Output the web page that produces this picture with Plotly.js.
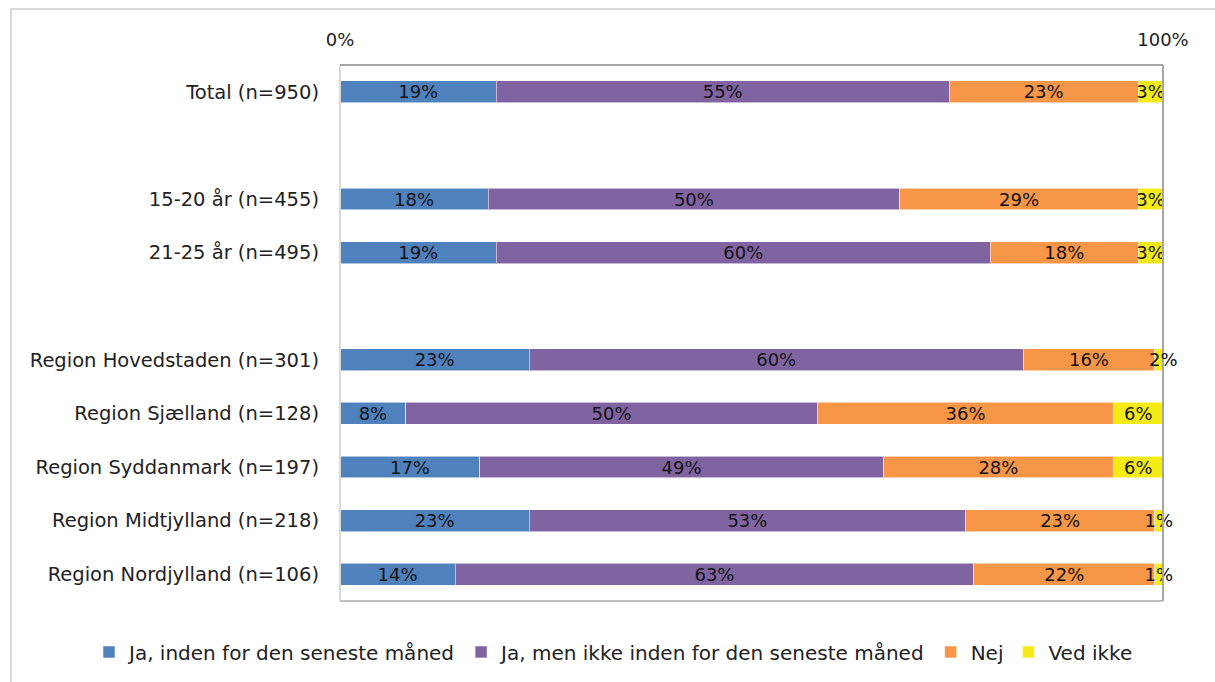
<!DOCTYPE html>
<html>
<head>
<meta charset="utf-8">
<script src="https://cdn.plot.ly/plotly-3.0.1.min.js"></script>
<style>
  html, body { margin: 0; padding: 0; background: #ffffff; }
  #wrap { position: relative; width: 1215px; height: 682px; overflow: hidden; }
  #chart { position: absolute; left: 0; top: 0; width: 1215px; height: 682px; }
  #frame { position: absolute; left: 10px; top: 8px; width: 1300px; height: 800px;
           border-left: 2px solid #d9d9d9; border-top: 2px solid #d9d9d9; pointer-events: none; }
</style>
</head>
<body>
<div id="wrap">
  <div id="chart"></div>
  <div id="frame"></div>
</div>
<script>
// Row labels, top to bottom; blank entries are spacer rows between groups
const categories = [
  'Total (n=950)',
  ' ',
  '15-20 år (n=455)',
  '21-25 år (n=495)',
  '  ',
  'Region Hovedstaden (n=301)',
  'Region Sjælland (n=128)',
  'Region Syddanmark (n=197)',
  'Region Midtjylland (n=218)',
  'Region Nordjylland (n=106)'
];

const seriesNames = [
  'Ja, inden for den seneste måned',
  'Ja, men ikke inden for den seneste måned',
  'Nej',
  'Ved ikke'
];

// Percent shares per row (null = spacer row)
const jaSenesteMaaned = [19, null, 18, 19, null, 23, 8, 17, 23, 14];
const jaIkkeSenesteMaaned = [55, null, 50, 60, null, 60, 50, 49, 53, 63];
const nej = [23, null, 29, 18, null, 16, 36, 28, 23, 22];
const vedIkke = [3, null, 3, 3, null, 2, 6, 6, 1, 1];

const tickVals = [0, 100];
const tickText = ['0%', '100%'];

const colors = ['#4f81bd', '#8064a2', '#f79646', '#f5eb14'];
const allSeries = [jaSenesteMaaned, jaIkkeSenesteMaaned, nej, vedIkke];

const FONT = 'DejaVu Sans, sans-serif';
const X_MAX = 100;

const traces = allSeries.map((vals, i) => ({
  type: 'bar',
  orientation: 'h',
  name: seriesNames[i],
  y: categories,
  x: vals,
  text: vals.map(v => (v == null ? '' : v + '%')),
  textposition: 'inside',
  insidetextanchor: 'middle',
  constraintext: 'none',
  textangle: 0,
  cliponaxis: false,
  textfont: { family: FONT, size: 18, color: '#111111' },
  insidetextfont: { family: FONT, size: 18, color: '#111111' },
  marker: { color: colors[i], line: { color: 'rgba(255,255,255,0.55)', width: 1 } },
  hoverinfo: 'skip'
}));

// Segments that run past the 100% edge lose their in-bar text, so label them here
const annotations = [];
categories.forEach((cat, r) => {
  let start = 0;
  allSeries.forEach(vals => {
    const v = vals[r];
    if (v == null) return;
    const end = start + v;
    if (end > X_MAX) {
      annotations.push({
        x: (start + end) / 2, y: cat, xref: 'x', yref: 'y',
        text: v + '%', showarrow: false,
        font: { family: FONT, size: 18, color: '#111111' }
      });
    }
    start = end;
  });
});

// Plot-area frame: light left edge, mid-grey bottom, darker top and right
const edge = (x0, y0, x1, y1, color) => ({
  type: 'line', xref: 'paper', yref: 'paper', x0, y0, x1, y1,
  line: { color, width: 2 }, layer: 'above'
});
const shapes = [
  edge(0, 0, 0, 1, '#d9d9d9'),
  edge(0, 0, 1, 0, '#bfbfbf'),
  edge(0, 1, 1, 1, '#a6a6a6'),
  edge(1, 0, 1, 1, '#a6a6a6')
];

const layout = {
  width: 1215,
  height: 682,
  barmode: 'stack',
  bargap: 0.59,
  paper_bgcolor: '#ffffff',
  plot_bgcolor: '#ffffff',
  margin: { l: 340, r: 52, t: 65, b: 80, pad: 0 },
  font: { family: FONT, size: 18, color: '#222222' },
  showlegend: true,
  annotations: annotations,
  shapes: shapes,
  legend: {
    orientation: 'h',
    x: -0.305,
    xanchor: 'left',
    y: -0.093,
    yanchor: 'middle',
    font: { family: FONT, size: 20, color: '#222222' },
    traceorder: 'normal',
    itemwidth: 30
  },
  xaxis: {
    side: 'top',
    range: [0, X_MAX],
    tickvals: tickVals,
    ticktext: tickText,
    ticks: '',
    ticklabelstandoff: 14,
    showgrid: false,
    zeroline: false,
    showline: false,
    fixedrange: true,
    tickfont: { family: FONT, size: 18, color: '#222222' }
  },
  yaxis: {
    type: 'category',
    autorange: 'reversed',
    ticks: '',
    ticklabelstandoff: 20,
    showgrid: false,
    zeroline: false,
    showline: false,
    fixedrange: true,
    tickfont: { family: FONT, size: 19.5, color: '#222222' }
  }
};

Plotly.newPlot('chart', traces, layout, { staticPlot: true, displayModeBar: false });
</script>
</body>
</html>
